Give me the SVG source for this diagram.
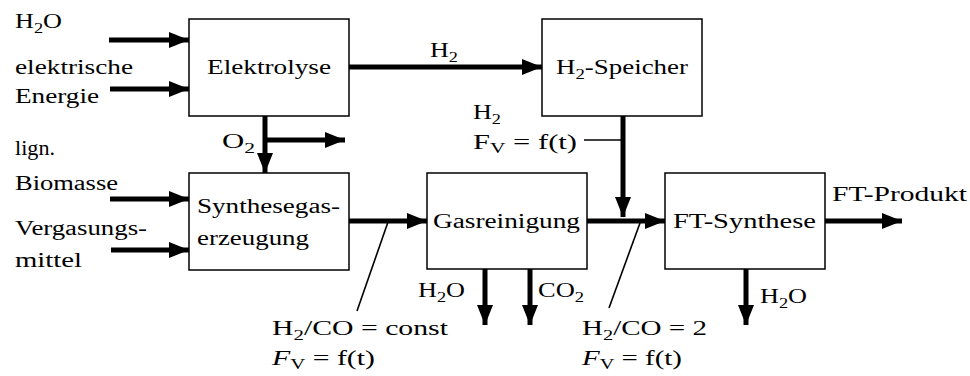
<svg xmlns="http://www.w3.org/2000/svg" width="970" height="376" viewBox="0 0 970 376">
<style>
text{font-family:"Liberation Serif","Times New Roman",serif;font-size:20px;fill:#000}
.sub{font-size:14px}
.it{font-style:italic}
.box{fill:#fff;stroke:#000;stroke-width:1.5}
.flow{stroke:#000;stroke-width:5;fill:none;marker-end:url(#ah)}
.thin{stroke:#000;stroke-width:1.6;fill:none}
</style>
<defs>
<marker id="ah" markerUnits="userSpaceOnUse" markerWidth="20" markerHeight="16" refX="20" refY="8" orient="auto">
<path d="M0,0 L20,8 L0,16 Z" fill="#000"/>
</marker>
</defs>
<rect width="970" height="376" fill="#fff"/>
<g id="connectors">
<line class="flow" x1="109" y1="40" x2="189" y2="40"/>
<line class="flow" x1="110" y1="89" x2="189" y2="89"/>
<line class="flow" x1="349" y1="67" x2="542" y2="67"/>
<line class="flow" x1="265" y1="116" x2="265" y2="173"/>
<line class="flow" x1="265" y1="140" x2="345" y2="140"/>
<line class="flow" x1="110" y1="199" x2="189" y2="199"/>
<line class="flow" x1="111" y1="250" x2="189" y2="250"/>
<line class="flow" x1="349" y1="221" x2="427" y2="221"/>
<line class="flow" x1="485" y1="269" x2="485" y2="325"/>
<line class="flow" x1="530" y1="269" x2="530" y2="325"/>
<line class="flow" x1="587" y1="221" x2="665" y2="221"/>
<line class="flow" x1="623" y1="116" x2="623" y2="217"/>
<line class="flow" x1="825" y1="221" x2="902" y2="221"/>
<line class="flow" x1="746" y1="269" x2="746" y2="325"/>
<line class="thin" x1="388" y1="222" x2="357" y2="311"/>
<line class="thin" x1="640" y1="223" x2="609" y2="308"/>
<line class="thin" x1="584" y1="140" x2="623" y2="140"/>
</g>
<g id="elektrolyse">
<rect class="box" x="189" y="19" width="160" height="97"/>
<text x="207" y="74" textLength="124" lengthAdjust="spacingAndGlyphs">Elektrolyse</text>
</g>
<g id="h2speicher">
<rect class="box" x="542" y="19" width="160" height="97"/>
<text x="556" y="74" textLength="132" lengthAdjust="spacingAndGlyphs">H<tspan class="sub" dy="5">2</tspan><tspan dy="-5">-Speicher</tspan></text>
</g>
<g id="synthesegas">
<rect class="box" x="189" y="173" width="160" height="97"/>
<text x="197" y="213" textLength="143" lengthAdjust="spacingAndGlyphs">Synthesegas-</text>
<text x="197" y="245" textLength="112" lengthAdjust="spacingAndGlyphs">erzeugung</text>
</g>
<g id="gasreinigung">
<rect class="box" x="427" y="173" width="160" height="96"/>
<text x="433" y="228" textLength="147" lengthAdjust="spacingAndGlyphs">Gasreinigung</text>
</g>
<g id="ftsynthese">
<rect class="box" x="665" y="173" width="160" height="96"/>
<text x="673" y="228" textLength="143" lengthAdjust="spacingAndGlyphs">FT-Synthese</text>
</g>
<g id="labels">
<text x="15" y="28" textLength="47" lengthAdjust="spacingAndGlyphs">H<tspan class="sub" dy="5">2</tspan><tspan dy="-5">O</tspan></text>
<text x="15" y="74" textLength="118" lengthAdjust="spacingAndGlyphs">elektrische</text>
<text x="15" y="103" textLength="84" lengthAdjust="spacingAndGlyphs">Energie</text>
<text x="15" y="155" textLength="40" lengthAdjust="spacingAndGlyphs">lign.</text>
<text x="15" y="190" textLength="103" lengthAdjust="spacingAndGlyphs">Biomasse</text>
<text x="15" y="235" textLength="132" lengthAdjust="spacingAndGlyphs">Vergasungs-</text>
<text x="15" y="267" textLength="67" lengthAdjust="spacingAndGlyphs">mittel</text>
<text x="430" y="57" textLength="28" lengthAdjust="spacingAndGlyphs">H<tspan class="sub" dy="5">2</tspan></text>
<text x="222" y="148" textLength="33" lengthAdjust="spacingAndGlyphs">O<tspan class="sub" dy="5">2</tspan></text>
<text x="473" y="119" textLength="28" lengthAdjust="spacingAndGlyphs">H<tspan class="sub" dy="5">2</tspan></text>
<text x="473" y="149" textLength="104" lengthAdjust="spacingAndGlyphs">F<tspan class="sub" dy="4">V</tspan><tspan dy="-4"> = f(t)</tspan></text>
<text x="418" y="297" textLength="47" lengthAdjust="spacingAndGlyphs">H<tspan class="sub" dy="5">2</tspan><tspan dy="-5">O</tspan></text>
<text x="538" y="297" textLength="46" lengthAdjust="spacingAndGlyphs">CO<tspan class="sub" dy="5">2</tspan></text>
<text x="760" y="303" textLength="47" lengthAdjust="spacingAndGlyphs">H<tspan class="sub" dy="5">2</tspan><tspan dy="-5">O</tspan></text>
<text x="832" y="201" textLength="135" lengthAdjust="spacingAndGlyphs">FT-Produkt</text>
<text x="272" y="335" textLength="176" lengthAdjust="spacingAndGlyphs">H<tspan class="sub" dy="5">2</tspan><tspan dy="-5">/CO = const</tspan></text>
<text x="272" y="365" textLength="103" lengthAdjust="spacingAndGlyphs"><tspan class="it">F</tspan><tspan class="sub" dy="4">V</tspan><tspan dy="-4"> = f(t)</tspan></text>
<text x="582" y="335" textLength="125" lengthAdjust="spacingAndGlyphs">H<tspan class="sub" dy="5">2</tspan><tspan dy="-5">/CO = 2</tspan></text>
<text x="582" y="365" textLength="100" lengthAdjust="spacingAndGlyphs"><tspan class="it">F</tspan><tspan class="sub" dy="4">V</tspan><tspan dy="-4"> = f(t)</tspan></text>
</g>
</svg>
